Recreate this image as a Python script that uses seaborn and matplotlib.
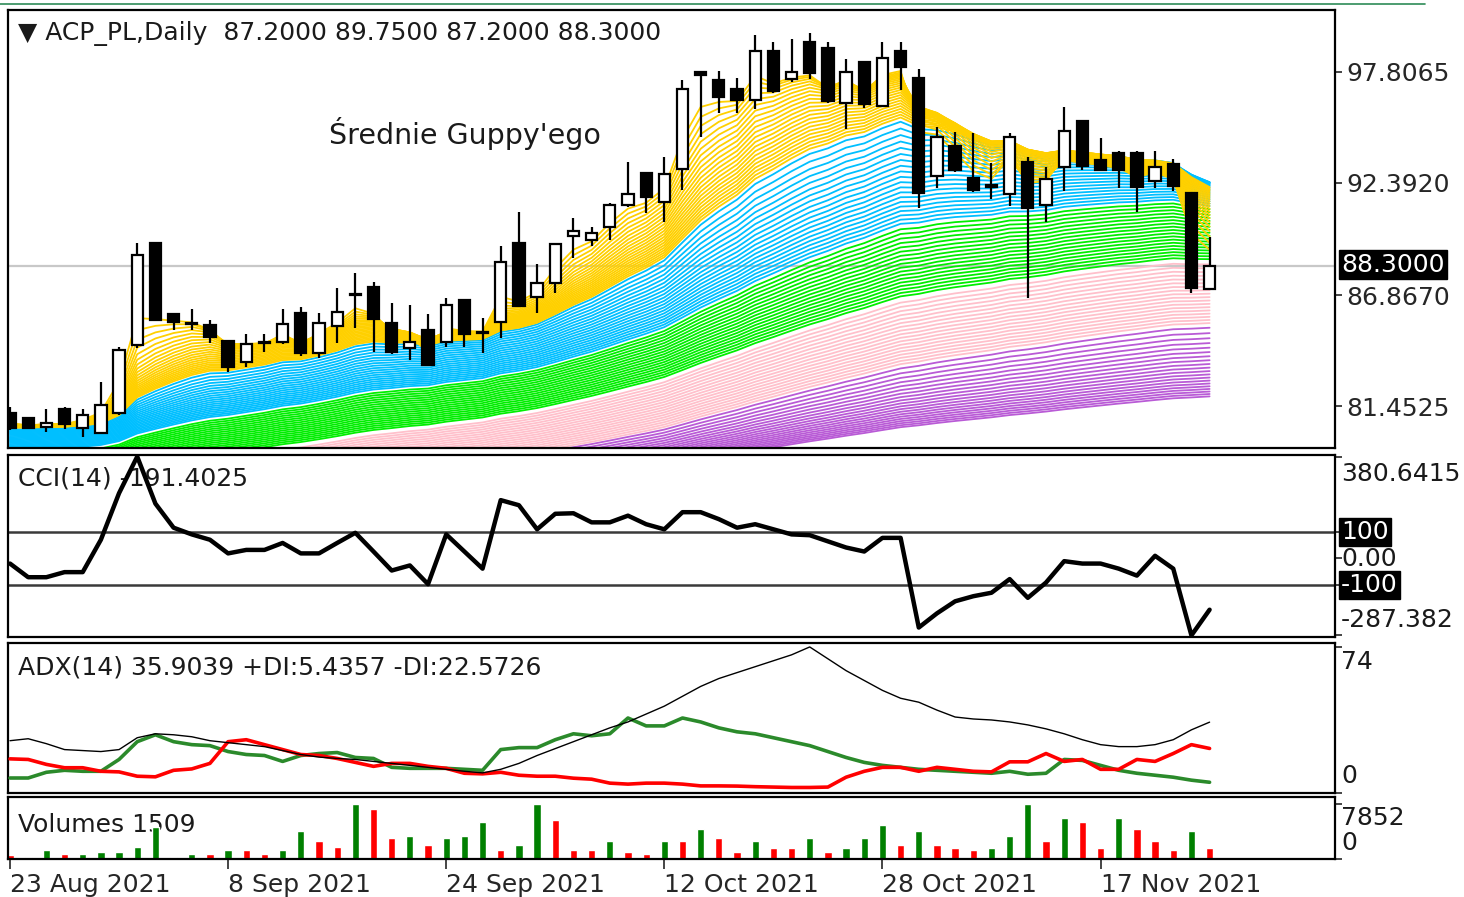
import numpy as np
import matplotlib
matplotlib.use("Agg")
import matplotlib.pyplot as plt
import seaborn as sns
from matplotlib.lines import Line2D
from matplotlib.patches import Rectangle

sns.set_style("white")
plt.rcParams['font.family'] = ['DejaVu Sans']

# ---- data ----
date_labels = ["23 Aug 2021", "8 Sep 2021", "24 Sep 2021", "12 Oct 2021", "28 Oct 2021", "17 Nov 2021"]
date_idx = [0, 12, 24, 36, 48, 60]

opens = [81.1, 80.85, 80.42, 81.3, 80.37, 80.13, 81.11, 84.44, 89.43, 85.95,
         85.5, 85.41, 84.63, 83.6, 84.55, 84.58, 86.0, 84.05, 85.37, 86.9,
         87.28, 85.5, 84.29, 85.17, 84.58, 86.64, 85.05, 85.56, 89.43, 86.79,
         87.47, 89.77, 89.58, 90.22, 91.29, 92.86, 91.44, 93.06, 97.82, 97.41,
         96.97, 96.44, 98.83, 97.46, 99.28, 98.98, 96.29, 98.3, 96.14, 98.83,
         97.51, 92.71, 94.18, 92.62, 92.25, 91.83, 93.4, 91.29, 93.15, 95.41,
         93.5, 93.84, 93.84, 92.47, 93.3, 91.88, 87.2]
highs = [81.4, 80.9, 81.3, 81.4, 81.3, 82.63, 84.34, 89.43, 89.45, 86.0,
         86.2, 85.66, 84.7, 84.98, 84.98, 86.2, 86.3, 86.0, 87.23, 87.96,
         87.52, 86.5, 86.4, 85.95, 86.74, 86.7, 85.76, 89.29, 90.95, 88.4,
         89.4, 90.66, 90.2, 91.39, 93.4, 92.9, 93.64, 97.41, 97.84, 97.85,
         97.5, 99.62, 99.28, 99.42, 99.72, 99.28, 98.44, 98.32, 99.28, 99.28,
         97.95, 95.11, 94.87, 94.82, 93.35, 94.82, 93.64, 93.15, 96.09, 95.42,
         94.57, 93.94, 93.94, 93.94, 93.55, 91.9, 89.75]
lows = [80.3, 80.35, 80.2, 80.32, 79.93, 80.1, 81.0, 84.3, 85.6, 85.17,
        85.2, 84.53, 83.12, 83.36, 84.1, 84.5, 83.9, 83.8, 84.53, 85.27,
        84.1, 84.0, 83.7, 83.4, 84.34, 84.34, 84.05, 84.78, 86.3, 86.0,
        86.98, 88.7, 89.3, 89.58, 91.2, 90.9, 90.46, 92.03, 94.6, 95.8,
        95.8, 96.0, 96.8, 97.3, 97.46, 96.3, 95.0, 96.04, 96.1, 96.92,
        91.15, 92.12, 92.9, 91.95, 91.59, 91.24, 86.74, 90.46, 91.98, 93.01,
        92.95, 92.12, 90.95, 92.12, 91.98, 86.98, 87.2]
closes = [80.4, 80.4, 80.62, 80.57, 81.0, 81.5, 84.19, 88.85, 85.66, 85.56,
          85.46, 84.83, 83.36, 84.49, 84.6, 85.46, 84.05, 85.5, 86.05, 86.95,
          85.71, 84.1, 84.58, 83.46, 86.4, 84.98, 85.07, 88.5, 86.35, 87.47,
          89.38, 90.02, 89.92, 91.29, 91.83, 91.69, 92.81, 96.97, 97.65, 96.58,
          96.44, 98.83, 96.88, 97.81, 97.76, 96.39, 97.81, 96.24, 98.49, 98.05,
          91.88, 94.62, 93.01, 92.03, 92.2, 94.62, 91.15, 92.57, 94.92, 93.2,
          93.01, 93.01, 92.17, 93.15, 92.22, 87.23, 88.3]

cci = [-19, -70, -70, -51, -51, 70, 244, 380.64, 205, 115,
       90, 70, 19, 32, 32, 58, 19, 19, 58, 96,
       26, -45, -26, -96, 90, 26, -38, 218, 199, 109,
       167, 169, 135, 135, 160, 128, 109, 173, 173, 147,
       115, 128, 109, 90, 87, 64, 41, 26, 77, 77,
       -258, -205, -160, -141, -128, -77, -147, -90, -10, -19,
       -19, -38, -64, 10, -38, -287.38, -191.4]

adx = [26.5, 27.5, 25, 22, 21.5, 21, 22, 28, 30, 29.5,
       28.5, 26.5, 25.5, 24.5, 23.5, 21.5, 19.5, 18.2, 17.5, 17,
       16, 15, 14, 13, 12, 11, 10.2, 12, 15, 19,
       22.5, 26, 29.5, 33, 36, 40, 44, 49, 54, 58,
       61, 64, 67, 70, 74, 68, 62, 57, 52, 48,
       46, 42, 38.5, 37.5, 37, 36, 34.5, 32.5, 30, 27,
       24.5, 23.5, 23.5, 24.5, 27, 32, 35.9]
plus_di = [7.6, 7.6, 10.5, 11.5, 11, 11, 17, 26, 29.5, 26,
           24.5, 24, 21, 19.5, 19, 16, 19, 20, 20.5, 18,
           17.5, 13, 12.5, 12.5, 12.5, 12, 11.5, 22, 23, 23,
           27, 30, 29, 30, 38, 34, 34, 38, 36, 33,
           31, 30, 28, 26, 24, 21, 18, 15.5, 14, 13,
           12, 11.5, 11, 10.5, 10, 11, 9.5, 10, 17, 16.5,
           14, 11.5, 10, 9, 8, 6.5, 5.44]
minus_di = [17.3, 17, 14.5, 12.8, 12.8, 11, 10.7, 8.5, 8.2, 11.5,
            12.2, 15, 26, 27, 24.5, 22, 19.5, 19, 17.5, 15.5,
            13.5, 15, 15, 13.5, 12.5, 10, 9.7, 10.5, 9, 8.5,
            8.5, 7.5, 7, 5, 4.5, 5, 5, 4.5, 3.6, 3.6,
            3.5, 3.2, 3, 2.8, 2.8, 3, 8, 11, 13, 13,
            11, 13, 12, 11, 10.7, 15.8, 15.8, 20, 16, 17,
            12, 12, 17, 16, 20, 24.5, 22.57]

volumes = [620, 240, 1285, 714, 760, 1000, 1050, 1666, 4522, 240,
           714, 700, 1285, 1250, 714, 1285, 3950, 2618, 1666, 7820,
           7140, 2951, 3332, 2000, 2951, 3332, 5236, 1285, 2000, 7810,
           5570, 1285, 1250, 2618, 950, 714, 2618, 2600, 4284, 2951,
           950, 2618, 1570, 1550, 2951, 950, 1570, 2951, 4855, 2000,
           3950, 2000, 1570, 1285, 1570, 3332, 7852, 2618, 5855, 5236,
           1570, 5855, 4284, 2618, 1285, 3950, 1509]

# Guppy averages: EMA of closes, one band per colour (start level of fastest/slowest line)
guppy_colors = ["#b95bd6", "#ffc0cb", "#00ee00", "#00bfff", "#ffd000"]
guppy_periods = [(135, 250, 20), (85, 130, 18), (50, 82, 18), (18, 48, 20), (3, 17, 22)]
guppy_start = [(76.0, 76.0), (77.3, 76.0), (79.0, 77.6), (80.3, 79.2), (80.7, 80.4)]


def ema(values, period, seed):
    a = 2.0 / (period + 1)
    e = seed
    out = []
    for v in values:
        e = e + a * (v - e)
        out.append(e)
    return np.array(out)


W, H = 1464, 897
fig = plt.figure(figsize=(W / 100, H / 100), dpi=100)


def px_axes(x0, y0, x1, y1):
    return fig.add_axes([x0 / W, 1 - y1 / H, (x1 - x0) / W, (y1 - y0) / H])


ax_p = px_axes(8, 10, 1335, 448)
ax_c = px_axes(8, 455, 1335, 637)
ax_a = px_axes(8, 643, 1335, 793)
ax_v = px_axes(8, 797, 1335, 859)

idx = np.arange(len(closes))
XMIN, XMAX = -0.11, 72.9
FS = 18

for ax in (ax_p, ax_c, ax_a, ax_v):
    ax.set_xlim(XMIN, XMAX)
    for s in ax.spines.values():
        s.set_color("black")
        s.set_linewidth(1.6)
    ax.set_xticks([])
    ax.yaxis.tick_right()
    ax.tick_params(axis="y", direction="out", length=5, width=1.2, labelsize=FS, pad=3)

# ---- price panel ----
ax_p.set_ylim(79.40, 100.84)
ax_p.axhline(88.3, color="#c8c8c8", lw=1.6, zorder=1)

for col, (p0, p1, n), (s0, s1) in zip(guppy_colors, guppy_periods, guppy_start):
    periods = np.linspace(p0, p1, n)
    seeds = np.linspace(s0, s1, n)
    for p, s in zip(periods, seeds):
        ax_p.plot(idx, ema(closes, p, s), color=col, lw=1.3, zorder=2)

body_w = 0.62
for i in idx:
    o, h, l, c = opens[i], highs[i], lows[i], closes[i]
    ax_p.plot([i, i], [l, h], color="black", lw=1.6, zorder=3, solid_capstyle="butt")
    lo, hi = min(o, c), max(o, c)
    ax_p.add_patch(Rectangle((i - body_w / 2, lo), body_w, max(hi - lo, 0.04),
                             facecolor="white" if c >= o else "black",
                             edgecolor="black", lw=1.6, zorder=4))

ax_p.set_yticks([97.8065, 92.3920, 86.8670, 81.4525])
ax_p.set_yticklabels(["97.8065", "92.3920", "86.8670", "81.4525"])

ax_p.text(10 / 1327, 1 - 24 / 438, "\u25bc ACP_PL,Daily  87.2000 89.7500 87.2000 88.3000",
          transform=ax_p.transAxes, fontsize=FS, va="center", ha="left", color="#1a1a1a")
ax_p.text(457 / 1327, 1 - 123 / 438, "\u015arednie Guppy'ego", transform=ax_p.transAxes,
          fontsize=20.5, va="center", ha="center", color="#1a1a1a")

fig.text(1341 / W, 1 - 265 / H, "88.3000", fontsize=FS, color="white", va="center", ha="left",
         bbox=dict(boxstyle="square,pad=0.1", facecolor="black", edgecolor="black"))

# ---- CCI panel ----
ax_c.set_ylim(-287.382 - 6, 380.6415 + 6)
ax_c.axhline(100, color="#3a3a3a", lw=1.8, zorder=1)
ax_c.axhline(-100, color="#3a3a3a", lw=1.8, zorder=1)
ax_c.text(10 / 1327, 1 - 23 / 182, "CCI(14) -191.4025", transform=ax_c.transAxes,
          fontsize=FS, va="center", ha="left", color="#1a1a1a", zorder=1)
sns.lineplot(x=idx, y=cci, ax=ax_c, color="black", lw=3.2, zorder=3, sort=False)
ax_c.set_yticks([380.6415, 100, 0, -100, -287.382])
ax_c.set_yticklabels([])
for txt, yy, boxed in [("380.6415", 474, False), ("100", 532, True), ("0.00", 559, False),
                       ("-100", 585, True), ("-287.382", 620, False)]:
    kw = dict(bbox=dict(boxstyle="square,pad=0.08", facecolor="black", edgecolor="black")) if boxed else {}
    fig.text(1341 / W, 1 - yy / H, txt, fontsize=FS, va="center", ha="left",
             color="white" if boxed else "#1a1a1a", **kw)

# ---- ADX panel ----
ax_a.set_ylim(0, 76)
sns.lineplot(x=idx, y=adx, ax=ax_a, color="black", lw=1.0, zorder=4, sort=False)
sns.lineplot(x=idx, y=plus_di, ax=ax_a, color="#2b8a2b", lw=2.6, zorder=3, sort=False)
sns.lineplot(x=idx, y=minus_di, ax=ax_a, color="#ff0000", lw=2.6, zorder=3, sort=False)
ax_a.text(10 / 1327, 1 - 24 / 150, "ADX(14) 35.9039 +DI:5.4357 -DI:22.5726",
          transform=ax_a.transAxes, fontsize=FS, va="center", ha="left", color="#1a1a1a")
ax_a.set_yticks([74, 0])
ax_a.set_yticklabels([])
fig.text(1341 / W, 1 - 662 / H, "74", fontsize=FS, va="center", ha="left", color="#1a1a1a")
fig.text(1341 / W, 1 - 776 / H, "0", fontsize=FS, va="center", ha="left", color="#1a1a1a")

# ---- volume panel ----
vol_colors = ["#ff0000"] + ["#008000" if volumes[i] > volumes[i - 1] else "#ff0000"
                            for i in range(1, len(volumes))]
ax_v.bar(idx, volumes, width=0.4, color=vol_colors, zorder=2)
ax_v.set_ylim(0, 7852 * 1.12)
ax_v.text(10 / 1327, 0.55, "Volumes 1509", transform=ax_v.transAxes,
          fontsize=FS, va="center", ha="left", color="#1a1a1a", zorder=1)
ax_v.set_yticks([7852, 0])
ax_v.set_yticklabels([])
fig.text(1341 / W, 1 - 818 / H, "7852", fontsize=FS, va="center", ha="left", color="#1a1a1a")
fig.text(1341 / W, 1 - 843 / H, "0", fontsize=FS, va="center", ha="left", color="#1a1a1a")

ax_v.set_xticks(date_idx)
ax_v.set_xticklabels(date_labels, ha="left", fontsize=FS)
ax_v.tick_params(axis="x", direction="out", length=7, width=1.2, pad=3, bottom=True)

fig.add_artist(Line2D([0, 1425 / W], [1 - 4 / H, 1 - 4 / H], color="#2e8b57", lw=1.2))

fig.savefig("out.png", dpi=100)
